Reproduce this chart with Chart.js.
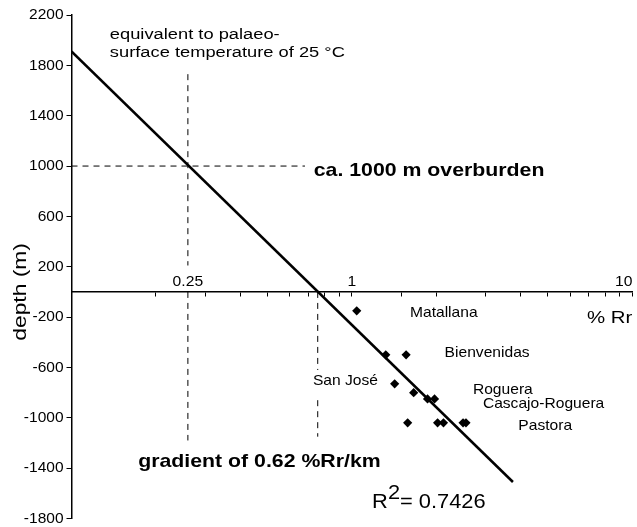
<!DOCTYPE html>
<html>
<head>
<meta charset="utf-8">
<script src="https://cdn.jsdelivr.net/npm/chart.js@4/dist/chart.umd.min.js"></script>
<style>
  body { margin: 0; background: #fff; }
  #wrap { width: 637px; height: 527px; }
</style>
</head>
<body>
<div id="wrap"><canvas id="myChart" width="637" height="527"></canvas></div>
<script>
// vitrinite reflectance (%Rr) against depth
const rrValues = [1.04, 1.32, 1.56, 1.42, 1.66, 1.86, 1.97, 1.58, 2.02, 2.12, 2.49, 2.55];
const depthValues = [-150, -500, -500, -730, -800, -850, -850, -1040, -1040, -1040, -1040, -1040];

// regression line ends
const fitRr = [0.1, 3.75];
const fitDepth = [1910, -1510];

// dashed guide lines (null = break in the line)
const overburdenRr = [0.1, 0.68];
const overburdenDepth = [1000, 1000];
const surfaceRr = [0.26, 0.26, 0.26, 0.26, 0.26];
const surfaceDepth = [1730, 210, null, 0, -1180];
const gradientRr = [0.755, 0.755, 0.755, 0.755, 0.755];
const gradientDepth = [0, -620, null, -860, -1150];

// axes
const depthMin = -1800;
const depthMax = 2200;
const depthStep = 400;
const rrMin = 0.1;
const rrMax = 10;
const xTickValues = [0.26, 1, 10];
const xTickLabels = ['0.25', '1', '10'];

const toPoints = (xs, ys) => xs.map((x, i) => ({ x: x, y: ys[i] }));

const FONT = '"Liberation Sans", Arial, Helvetica, sans-serif';
const reg = (size) => `${size}px ${FONT}`;
const bold = (size) => `bold ${size}px ${FONT}`;

// free text on the plot, anchored in data units
const notes = [
    { text: 'equivalent to palaeo-', x: 0.137, y: 2007, font: reg(15.5), sx: 1.18 },
    { text: 'surface temperature of 25 °C', x: 0.137, y: 1864, font: reg(15.5), sx: 1.18 },
    { text: 'ca. 1000 m overburden', x: 0.731, y: 921, font: bold(19), sx: 1.12 },
    { text: 'gradient of 0.62 %Rr/km', x: 0.173, y: -1393, font: bold(19), sx: 1.12 },
    { text: [{ t: 'R' }, { t: '2', dy: -9 }, { t: '= 0.7426' }], x: 1.18, y: -1718, font: reg(21), sx: 1.04 },
    { text: '% Rr', x: 10, y: -249, font: reg(17), sx: 1.2, align: 'right' },
    { text: 'Matallana', x: 1.61, y: -196, font: reg(15), sx: 1.04 },
    { text: 'Bienvenidas', x: 2.14, y: -514, font: reg(15), sx: 1.04 },
    { text: 'San José', x: 0.726, y: -739, font: reg(15), sx: 1.04 },
    { text: 'Roguera', x: 2.70, y: -810, font: reg(15), sx: 1.04 },
    { text: 'Cascajo-Roguera', x: 2.93, y: -924, font: reg(15), sx: 1.04 },
    { text: 'Pastora', x: 3.92, y: -1096, font: reg(15), sx: 1.04 }
];

const drawText = (ctx, parts, px, py, sx, align) => {
    const widths = parts.map(p => ctx.measureText(p.t).width);
    const total = widths.reduce((a, b) => a + b, 0) * sx;
    if (align === 'right') px -= total;
    if (align === 'center') px -= total / 2;
    ctx.save();
    ctx.translate(px, py);
    ctx.scale(sx, 1);
    let cx = 0;
    parts.forEach((p, i) => {
        ctx.fillText(p.t, cx, p.dy || 0);
        cx += widths[i];
    });
    ctx.restore();
};

const notesPlugin = {
    id: 'notes',
    afterDraw(chart) {
        const { ctx, scales: { x, y } } = chart;
        ctx.save();
        ctx.fillStyle = '#000';
        ctx.textAlign = 'left';
        ctx.textBaseline = 'alphabetic';

        notes.forEach(n => {
            ctx.font = n.font;
            const parts = Array.isArray(n.text) ? n.text : [{ t: n.text }];
            drawText(ctx, parts, x.getPixelForValue(n.x), y.getPixelForValue(n.y), n.sx, n.align);
        });

        // x tick labels sit above the axis line
        ctx.font = reg(14);
        xTickValues.forEach((v, i) => {
            drawText(ctx, [{ t: xTickLabels[i] }], x.getPixelForValue(v), y.getPixelForValue(0) - 6, 1.12, v === rrMax ? 'right' : 'center');
        });

        // y title centred on depth 0
        ctx.save();
        ctx.translate(26, y.getPixelForValue(0));
        ctx.rotate(-Math.PI / 2);
        ctx.font = reg(19);
        drawText(ctx, [{ t: 'depth (m)' }], 0, 0, 1.2, 'center');
        ctx.restore();

        ctx.restore();
    }
};

const lineStyle = (dash, width) => ({
    type: 'line',
    borderColor: '#000',
    borderWidth: width,
    borderDash: dash,
    pointRadius: 0,
    fill: false,
    spanGaps: false,
    tension: 0
});

new Chart(document.getElementById('myChart'), {
    type: 'scatter',
    data: {
        datasets: [
            {
                label: 'samples',
                data: toPoints(rrValues, depthValues),
                pointStyle: 'rectRot',
                pointRadius: 4.6,
                backgroundColor: '#000',
                borderColor: '#000',
                borderWidth: 0
            },
            { label: 'fit', data: toPoints(fitRr, fitDepth), ...lineStyle([], 2.5) },
            { label: 'overburden', data: toPoints(overburdenRr, overburdenDepth), ...lineStyle([6, 5], 1) },
            { label: 'surface', data: toPoints(surfaceRr, surfaceDepth), ...lineStyle([6, 5], 1) },
            { label: 'gradient', data: toPoints(gradientRr, gradientDepth), ...lineStyle([6, 5], 1) }
        ]
    },
    options: {
        responsive: false,
        animation: false,
        layout: { padding: { top: 15, right: 2, bottom: 8.5, left: 0 } },
        plugins: {
            legend: { display: false },
            tooltip: { enabled: false }
        },
        scales: {
            x: {
                type: 'logarithmic',
                min: rrMin,
                max: rrMax,
                position: { y: 0 },
                ticks: { display: false },
                grid: { drawOnChartArea: false, drawTicks: true, tickLength: 4, color: '#000', lineWidth: 1 },
                border: { color: '#000', width: 1.5 }
            },
            y: {
                type: 'linear',
                min: depthMin,
                max: depthMax,
                afterFit: (scale) => {
                    scale.width = 71.5;
                    scale.paddingTop = 0;
                    scale.paddingBottom = 0;
                },
                ticks: {
                    stepSize: depthStep,
                    color: '#000',
                    padding: 3,
                    font: { family: FONT, size: 15.5 },
                    callback: (v) => String(v)
                },
                grid: { drawOnChartArea: false, drawTicks: true, tickLength: 5, color: '#000', lineWidth: 1 },
                border: { color: '#000', width: 1.5 }
            }
        }
    },
    plugins: [notesPlugin]
});
</script>
</body>
</html>
